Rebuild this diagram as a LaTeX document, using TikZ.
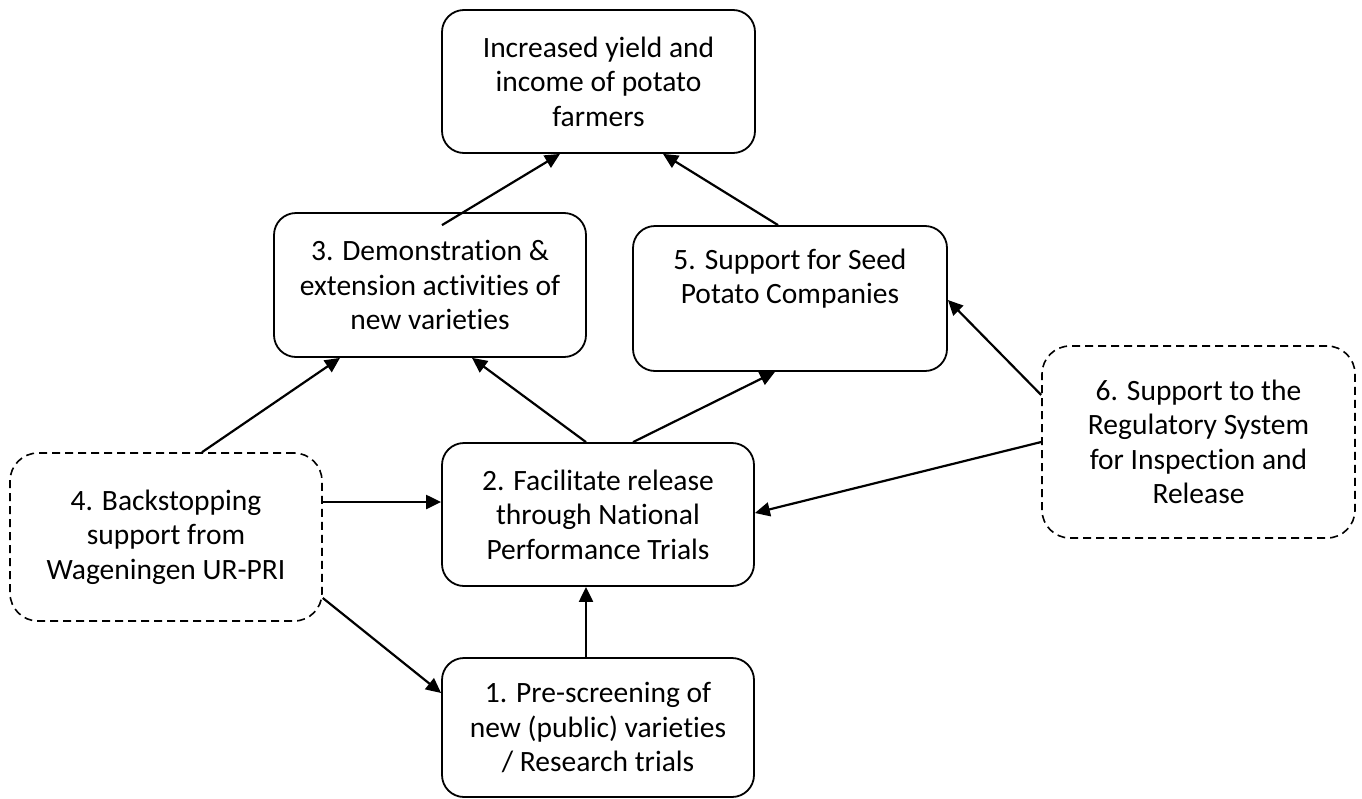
\documentclass[tikz,border=0pt]{standalone}
\usepackage{fontspec}
\setmainfont[Ligatures=NoCommon]{Carlito}
\usetikzlibrary{arrows.meta,calc}
\begin{document}
\begin{tikzpicture}[x=1pt,y=-1pt,
  solidbox/.style={draw=black, line width=1.8pt, rounded corners=22pt, align=center, inner sep=0pt,
    font=\fontsize{29.5pt}{34.5pt}\selectfont},
  dashbox/.style={solidbox, line width=1.6pt, rounded corners=28pt, dash pattern=on 8pt off 5pt},
  conn/.style={draw=black, line width=2.2pt, -{Triangle[length=15pt,width=14pt]}}
]
\useasboundingbox (0,0) rectangle (1362,798);

\node[solidbox, minimum width=313pt, minimum height=143pt] (top) at (598.5,81.5)
  {Increased yield and\\income of potato\\farmers};
\node[solidbox, minimum width=312pt, minimum height=144pt] (b3) at (430,285)
  {3. Demonstration \&\\extension activities of\\new varieties};
\node[solidbox, minimum width=314pt, minimum height=145pt] (b5) at (790,298.5)
  {5. Support for Seed\\Potato Companies\\\strut};
\node[solidbox, minimum width=312pt, minimum height=143pt] (b2) at (598,514.5)
  {2. Facilitate release\\through National\\Performance Trials};
\node[solidbox, minimum width=312pt, minimum height=139pt] (b1) at (598,727.5)
  {1. Pre-screening of\\new (public) varieties\\/ Research trials};
\node[dashbox, minimum width=312pt, minimum height=168pt] (b4) at (166,537)
  {4. Backstopping\\support from\\Wageningen UR-PRI};
\node[dashbox, minimum width=313pt, minimum height=192pt] (b6) at (1198.5,442)
  {6. Support to the\\Regulatory System\\for Inspection and\\Release};

\draw[conn] ($(b3.north)+(12,13)$) -- ($(top.south)+(-38.5,0)$);
\draw[conn] ($(b5.north)+(-12,0)$) -- ($(top.south)+(64.5,0)$);
\draw[conn] ($(b2.north)+(-12,0)$) -- ($(b3.south)+(42,0)$);
\draw[conn] ($(b2.north)+(35,0)$) -- ($(b5.south)+(-15,0)$);
\draw[conn] ($(b4.north)+(36,0)$) -- ($(b3.south)+(-90,0)$);
\draw[conn] ($(b4.east)+(0,-35)$) -- ($(b2.west)+(0,-12.5)$);
\draw[conn] ($(b4.east)+(0,61)$) -- ($(b1.west)+(0,-34.5)$);
\draw[conn] ($(b1.north)+(-12,0)$) -- ($(b2.south)+(-12,0)$);
\draw[conn] ($(b6.west)+(0,-47)$) -- ($(b5.east)+(0,1.5)$);
\draw[conn] (b6.west) -- ($(b2.east)+(0,-1.5)$);
\end{tikzpicture}
\end{document}
